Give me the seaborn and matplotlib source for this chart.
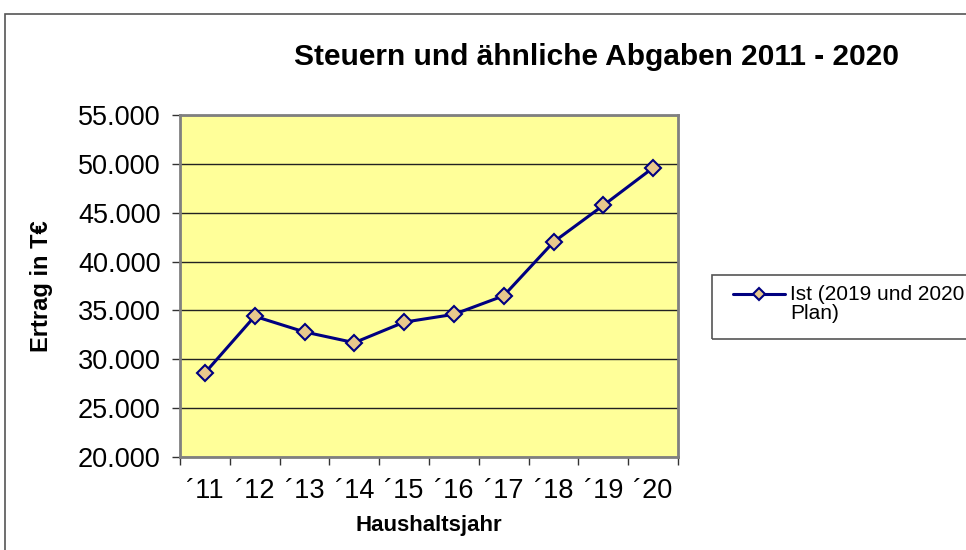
import matplotlib
matplotlib.use("Agg")
import matplotlib.pyplot as plt
import seaborn as sns
import pandas as pd
from matplotlib.patches import Rectangle
from matplotlib.lines import Line2D

years = ["´11", "´12", "´13", "´14", "´15", "´16", "´17", "´18", "´19", "´20"]
ertrag = [28600, 34400, 32800, 31700, 33800, 34600, 36500, 42000, 45750, 49600]
y_ticks = [20000, 25000, 30000, 35000, 40000, 45000, 50000, 55000]
y_labels = ["20.000", "25.000", "30.000", "35.000", "40.000", "45.000", "50.000", "55.000"]
series_name = "Ist (2019 und 2020\nPlan)"

df = pd.DataFrame({"pos": list(range(len(years))), "Ertrag": ertrag})

sns.set_theme(style="white")
plt.rcParams["font.family"] = ["Liberation Sans", "DejaVu Sans"]
plt.rcParams["text.color"] = "black"
plt.rcParams["axes.labelcolor"] = "black"
plt.rcParams["xtick.color"] = "black"
plt.rcParams["ytick.color"] = "black"

fig = plt.figure(figsize=(9.66, 5.5), dpi=100)
ax = fig.add_axes([180/966, 1-457/550, (678-180)/966, (457-115)/550])
ax.set_facecolor("#FFFF99")

sns.lineplot(data=df, x="pos", y="Ertrag", ax=ax, color="#000080", linewidth=2.2,
             marker="D", markersize=8, markerfacecolor="#E8C88C",
             markeredgecolor="#000080", markeredgewidth=1.5, zorder=3)

ax.set_xlim(-0.5, len(years) - 0.5)
ax.set_ylim(20000, 55000)
ax.set_yticks(y_ticks)
ax.set_yticklabels(y_labels, fontsize=19.5)
ax.set_xticks([i - 0.5 for i in range(len(years) + 1)])
ax.set_xticklabels([])
ax.set_xticks(list(range(len(years))), minor=True)
ax.set_xticklabels(years, minor=True, fontsize=19.5)
ax.tick_params(axis="x", which="minor", length=0, pad=15)
ax.tick_params(axis="x", which="major", length=6, width=1, color="#333333", direction="out", bottom=True)
ax.tick_params(axis="y", length=6, width=1, color="#333333", direction="out", left=True, pad=8)
ax.grid(axis="y", color="#222222", linewidth=1)
ax.set_axisbelow(True)
for s in ax.spines.values():
    s.set_color("#808080")
    s.set_linewidth(2)

ax.set_xlabel("Haushaltsjahr", fontsize=16, fontweight="bold", labelpad=8)
ax.set_ylabel("Ertrag in T€", fontsize=17, fontweight="bold", labelpad=18)

fig.text(596/966, 1-57/550, "Steuern und ähnliche Abgaben 2011 - 2020", ha="center", va="center",
         fontsize=21.5, fontweight="bold")

# outer chart border
fig.patches.append(Rectangle((5/966, -0.05), 1.05, 1-14/550 + 0.05, transform=fig.transFigure,
                             fill=False, edgecolor="#555555", linewidth=1.2, clip_on=False))

# legend box
fig.patches.append(Rectangle((712/966, 1-339/550), 0.5, 64/550, transform=fig.transFigure,
                             fill=False, edgecolor="#555555", linewidth=1.2, clip_on=False))
fig.add_artist(Line2D([733/966, 785/966], [1-294/550, 1-294/550], transform=fig.transFigure,
                      color="#000080", linewidth=2.2))
fig.add_artist(Line2D([759/966], [1-294/550], transform=fig.transFigure, marker="D",
                      markersize=6, markerfacecolor="#E8C88C", markeredgecolor="#000080",
                      markeredgewidth=1.5, linestyle="none"))
fig.text(790/966, 1-304/550, series_name, ha="left", va="center", fontsize=15, linespacing=1.0)

fig.savefig("out.png", dpi=100)
